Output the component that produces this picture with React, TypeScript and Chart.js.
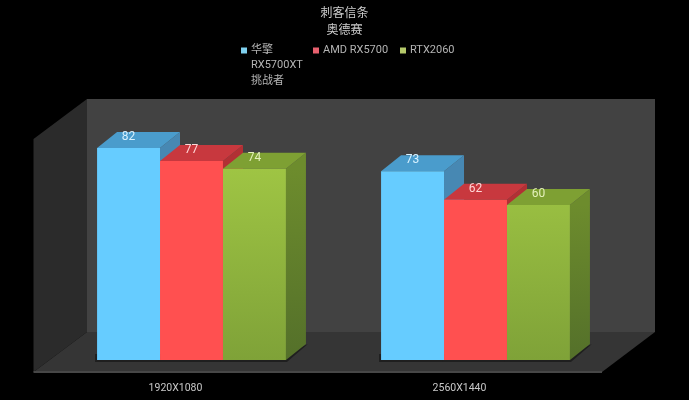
import React, { useEffect, useRef } from "react";
import { Chart, registerables } from "chart.js";

Chart.register(...registerables);

const categories = ["1920X1080", "2560X1440"];
const seriesNames = [["华擎", "RX5700XT", "挑战者"], ["AMD RX5700"], ["RTX2060"]];
const asrock = [82, 73];
const amd = [77, 62];
const rtx = [74, 60];
const titleLines = ["刺客信条", "奥德赛"];

const frontColors = ["#66ccff", "#ff5050", "#9dc344"];
const topColors = ["#4a9ccc", "#c8383e", "#7ea033"];
const sideColors = ["#4788b3", "#b23034", "#6d8c2d"];
const labelColors = ["#d9f2ff", "#ffd6d6", "#e4f0bb"];
const legendBoxColors = ["#7fd0ee", "#e8606e", "#b5c96a"];
const legendBoxX = [241, 313, 400];
const DX = 20;
const DY = 16;

function poly(ctx: CanvasRenderingContext2D, pts: number[][], fill: string | CanvasGradient) {
  ctx.beginPath();
  pts.forEach((p, i) => (i ? ctx.lineTo(p[0], p[1]) : ctx.moveTo(p[0], p[1])));
  ctx.closePath();
  ctx.fillStyle = fill;
  ctx.fill();
}

const room3d = {
  id: "room3d",
  beforeDraw(chart: any) {
    chart.titleBlock.left = 0;
    chart.titleBlock.right = chart.width;
  },
  beforeDatasetsDraw(chart: any) {
    const { ctx, chartArea: a, scales } = chart;
    const top = scales.y.getPixelForValue(100) - 2.5;
    const b = a.bottom;
    const L = a.left;
    const R = a.right;
    const backL = L + 37.5;
    const backR = R + 37.5;
    const frontL = L - 16;
    const frontR = R - 15.5;
    const backY = b - 28;
    const frontY = b + 12;
    ctx.save();
    poly(ctx, [[backL, top], [backR, top], [backR, backY], [backL, backY]], "#424242");
    poly(ctx, [[frontL, top + 40], [backL, top], [backL, backY], [frontL, frontY]], "#2b2b2b");
    poly(ctx, [[backL, backY], [backR, backY], [frontR, frontY], [frontL, frontY]], "#353535");
    poly(ctx, [[frontL, frontY - 1], [frontR, frontY - 1], [frontR, frontY + 1], [frontL, frontY + 1]], "#474747");

    chart.data.datasets.forEach((_: any, di: number) => {
      chart.getDatasetMeta(di).data.forEach((el: any) => {
        const x0 = el.x - el.width / 2;
        const x1 = el.x + el.width / 2;
        const y = el.y;
        const base = el.base;
        poly(
          ctx,
          [[x0 - 2, base - 6], [x1, base - 6], [x1 + DX + 2, base - DY], [x1 + 1, base + 2], [x0 - 2, base + 2]],
          "#1f1f1f",
        );
        const side = ctx.createLinearGradient(0, y, 0, base);
        side.addColorStop(0, sideColors[di]);
        side.addColorStop(1, di === 2 ? "#54702a" : sideColors[di]);
        poly(ctx, [[x1, y], [x1 + DX, y - DY], [x1 + DX, base - DY], [x1, base]], side);
        poly(ctx, [[x0, y], [x0 + DX, y - DY], [x1 + DX, y - DY], [x1, y]], topColors[di]);
      });
    });
    ctx.restore();
  },
  afterDatasetsDraw(chart: any) {
    const { ctx } = chart;
    ctx.save();
    ctx.font = "12px Roboto";
    ctx.textAlign = "center";
    ctx.textBaseline = "middle";
    chart.data.datasets.forEach((ds: any, di: number) => {
      chart.getDatasetMeta(di).data.forEach((el: any, i: number) => {
        ctx.fillStyle = labelColors[di];
        ctx.fillText(String(ds.data[i]), el.x, el.y - 11);
      });
    });
    ctx.restore();
  },
  afterDraw(chart: any) {
    const { ctx } = chart;
    ctx.save();
    ctx.textBaseline = "middle";
    ctx.textAlign = "left";
    ctx.font = "11px Roboto, 'Noto Sans CJK SC'";
    seriesNames.forEach((lines, i) => {
      ctx.fillStyle = legendBoxColors[i];
      ctx.fillRect(legendBoxX[i], 47.5, 6, 6);
      ctx.fillStyle = "#b4b4b4";
      lines.forEach((t, j) => ctx.fillText(t, legendBoxX[i] + 10, 50 + j * 15.5));
    });
    ctx.restore();
  },
};

export default function App() {
  const ref = useRef<HTMLCanvasElement>(null);
  useEffect(() => {
    const greenFill = (c: any) => {
      const area = c.chart.chartArea;
      if (!area) return frontColors[2];
      const g = c.chart.ctx.createLinearGradient(0, 160, 0, area.bottom);
      g.addColorStop(0, "#a0c644");
      g.addColorStop(1, "#7fa238");
      return g;
    };
    const chart = new Chart(ref.current!, {
      type: "bar",
      data: {
        labels: categories,
        datasets: [
          { label: seriesNames[0].join(" "), data: asrock, backgroundColor: frontColors[0] },
          { label: seriesNames[1].join(" "), data: amd, backgroundColor: frontColors[1] },
          { label: seriesNames[2].join(" "), data: rtx, backgroundColor: greenFill },
        ],
      },
      options: {
        responsive: false,
        animation: false,
        devicePixelRatio: 1,
        layout: { padding: { left: 49.5, right: 71.5, top: 0, bottom: 0 } },
        datasets: { bar: { categoryPercentage: 0.665, barPercentage: 1 } },
        scales: {
          x: {
            afterFit: (s: any) => {
              s.height = 40;
            },
            grid: { display: false },
            border: { display: false },
            ticks: { color: "#c8c8c8", padding: 14, labelOffset: -16, font: { family: "Roboto", size: 10.5 } },
          },
          y: { display: false, min: 0, max: 100 },
        },
        plugins: {
          tooltip: { enabled: false },
          legend: { display: false },
          title: {
            display: true,
            text: titleLines,
            color: "#cccccc",
            font: { family: "'Noto Sans CJK SC'", size: 12, weight: "normal", lineHeight: 1.42 },
            padding: { top: 4, bottom: 63.4 },
          },
        },
      },
      plugins: [room3d],
    } as any);
    return () => chart.destroy();
  }, []);
  return (
    <div style={{ position: "fixed", left: 0, top: 0, width: 689, height: 400, background: "#000" }}>
      <canvas ref={ref} width={689} height={400} style={{ display: "block" }} />
    </div>
  );
}
